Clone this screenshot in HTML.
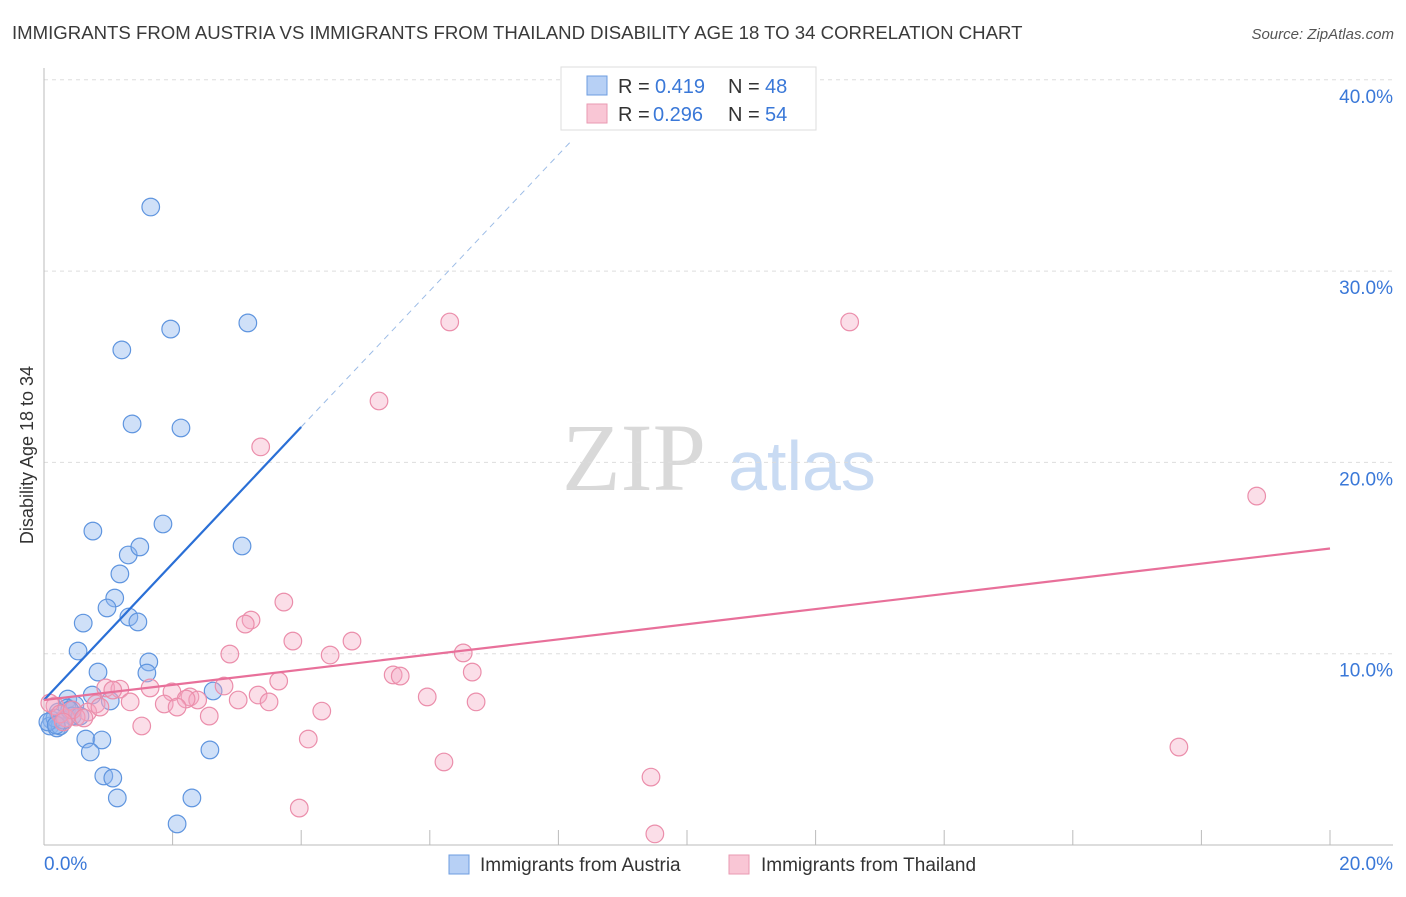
<!DOCTYPE html>
<html><head><meta charset="utf-8"><style>
body{margin:0;background:#fff;font-family:"Liberation Sans",sans-serif;}
svg text{font-family:"Liberation Sans",sans-serif;}
</style></head><body>
<svg width="1406" height="892" xmlns="http://www.w3.org/2000/svg" id="chart">
<text x="12" y="39" font-size="18.6" fill="#3a3a3a">IMMIGRANTS FROM AUSTRIA VS IMMIGRANTS FROM THAILAND DISABILITY AGE 18 TO 34 CORRELATION CHART</text>
<text x="1394" y="39" font-size="15" fill="#555" text-anchor="end" font-style="italic">Source: ZipAtlas.com</text>
<g>
<text x="634" y="490" font-size="96" fill="#d9d9d9" text-anchor="middle" font-family="Liberation Serif" style="font-family:'Liberation Serif',serif">ZIP</text>
<text x="802" y="490" font-size="70" fill="#c9dbf3" text-anchor="middle">atlas</text>
</g>
<g id="grid"></g>
<g id="axes"></g>
<g id="marks"></g>
<g>
<rect x="561" y="67" width="255" height="63" fill="#fff" stroke="#ddd"/>
<rect x="587" y="76" width="20" height="19" fill="#b7d0f5" stroke="#6d9de0"/>
<rect x="587" y="104" width="20" height="19" fill="#f9c6d5" stroke="#e99ab2"/>
<text x="618" y="93" font-size="20" fill="#333">R =</text>
<text x="655" y="93" font-size="20" fill="#3a78d8">0.419</text>
<text x="728" y="93" font-size="20" fill="#333">N =</text>
<text x="765" y="93" font-size="20" fill="#3a78d8">48</text>
<text x="618" y="121" font-size="20" fill="#333">R =</text>
<text x="653" y="121" font-size="20" fill="#3a78d8">0.296</text>
<text x="728" y="121" font-size="20" fill="#333">N =</text>
<text x="765" y="121" font-size="20" fill="#3a78d8">54</text>
</g>
<g>
<rect x="449" y="855" width="20" height="19" fill="#b7d0f5" stroke="#6d9de0"/>
<text x="480" y="871" font-size="19" fill="#333">Immigrants from Austria</text>
<rect x="729" y="855" width="20" height="19" fill="#f9c6d5" stroke="#e99ab2"/>
<text x="761" y="871" font-size="19" fill="#333">Immigrants from Thailand</text>
</g>
<text transform="translate(33,455) rotate(-90)" font-size="18" fill="#333" text-anchor="middle">Disability Age 18 to 34</text>
</svg>
<script>
const yTicks=[10,20,30,40];
const yTickLabels=["10.0%","20.0%","30.0%","40.0%"];
const xTicks=[0,2,4,6,8,10,12,14,16,18,20];
const austriaX=[1.66,1.97,3.17,1.21,1.37,2.13,0.76,1.85,1.31,1.49,3.08,1.18,1.10,0.98,1.32,1.46,0.61,0.53,1.63,1.60,0.84,2.63,0.37,0.75,1.03,0.48,0.36,0.22,0.44,0.12,0.09,0.20,0.25,0.65,0.90,0.72,2.58,0.93,1.07,1.14,2.30,2.07,0.17,0.30,0.06,0.40,0.56,0.19];
const austriaY=[33.35,26.97,27.29,25.88,22.01,21.80,16.41,16.78,15.16,15.58,15.63,14.17,12.91,12.39,11.92,11.66,11.60,10.14,9.57,8.99,9.04,8.05,7.63,7.84,7.53,7.32,7.16,6.95,6.74,6.53,6.22,6.12,6.22,5.54,5.49,4.86,4.97,3.61,3.50,2.46,2.46,1.10,6.64,6.53,6.43,7.06,6.74,6.27];
const thaiX=[6.31,12.53,5.21,3.37,18.86,3.73,3.22,3.13,3.87,4.79,2.89,4.45,6.52,6.66,3.65,5.43,5.54,2.80,0.96,1.18,1.65,1.07,1.99,2.27,2.39,2.21,3.02,3.33,3.50,5.96,6.72,1.34,1.87,2.07,2.57,0.81,0.68,0.50,0.34,0.17,0.09,1.52,4.32,4.11,6.22,17.65,9.44,3.97,9.50,0.25,0.44,0.62,0.87,0.30];
const thaiY=[27.34,27.34,23.21,20.81,18.24,12.70,11.76,11.55,10.66,10.66,9.98,9.93,10.04,9.04,8.57,8.89,8.83,8.31,8.21,8.15,8.21,8.10,8.00,7.74,7.58,7.63,7.58,7.84,7.48,7.74,7.48,7.48,7.37,7.21,6.74,7.37,6.95,6.69,6.64,7.27,7.42,6.22,7.00,5.54,4.34,5.12,3.55,1.93,0.58,6.85,7.06,6.64,7.21,6.43];
const austriaTrend=[[0,7.58],[4,21.85],[8.2,36.8]];
const thaiTrend=[[0,7.58],[20,15.5]];
const X0=44,X1=1330,Y0=845,PY=19.13;
const sx=v=>X0+(X1-X0)*v/20, sy=v=>Y0-v*PY;
const NS="http://www.w3.org/2000/svg";
function mk(tag,attrs,parent){const e=document.createElementNS(NS,tag);for(const k in attrs)e.setAttribute(k,attrs[k]);document.getElementById(parent).appendChild(e);return e;}
yTicks.forEach((t,i)=>{
 const g=mk('line',{x1:X0,x2:1393,y1:sy(t),y2:sy(t),stroke:'#ddd','stroke-dasharray':'4,4'},'grid');
 
 
 const l=mk('text',{x:1393,y:sy(t)+23,'font-size':19,fill:'#3a78d8','text-anchor':'end'},'axes');
 l.textContent=yTickLabels[i];
 
 
});
const ya=mk('line',{x1:X0,x2:X0,y1:68,y2:Y0,stroke:'#bbb'},'axes');


const xa=mk('line',{x1:X0,x2:1393,y1:Y0,y2:Y0,stroke:'#bbb'},'axes');


xTicks.forEach(t=>{
 const k=mk('line',{x1:sx(t),x2:sx(t),y1:830,y2:Y0,stroke:'#bbb'},'axes');
 
 
});
const xl0=mk('text',{x:44,y:870,'font-size':19,fill:'#3a78d8'},'axes');xl0.textContent='0.0%';


const xl1=mk('text',{x:1393,y:870,'font-size':19,fill:'#3a78d8','text-anchor':'end'},'axes');xl1.textContent='20.0%';


austriaX.forEach((v,i)=>{
 const c=mk('circle',{cx:sx(v),cy:sy(austriaY[i]),r:8.8,fill:'rgba(140,182,238,0.42)',stroke:'#5f95df','stroke-width':1.2},'marks');
 
 
});
thaiX.forEach((v,i)=>{
 const c=mk('circle',{cx:sx(v),cy:sy(thaiY[i]),r:8.8,fill:'rgba(244,168,194,0.38)',stroke:'#eb8eab','stroke-width':1.2},'marks');
 
 
});
const a1=mk('line',{x1:sx(austriaTrend[0][0]),y1:sy(austriaTrend[0][1]),x2:sx(austriaTrend[1][0]),y2:sy(austriaTrend[1][1]),stroke:'#2a6fd6','stroke-width':2.2},'marks');


const a2=mk('line',{x1:sx(austriaTrend[1][0]),y1:sy(austriaTrend[1][1]),x2:sx(austriaTrend[2][0]),y2:sy(austriaTrend[2][1]),stroke:'#9bbbe6','stroke-width':1,'stroke-dasharray':'6,5'},'marks');


const t1=mk('line',{x1:sx(thaiTrend[0][0]),y1:sy(thaiTrend[0][1]),x2:sx(thaiTrend[1][0]),y2:sy(thaiTrend[1][1]),stroke:'#e8709a','stroke-width':2.2},'marks');


</script>
</body></html>
